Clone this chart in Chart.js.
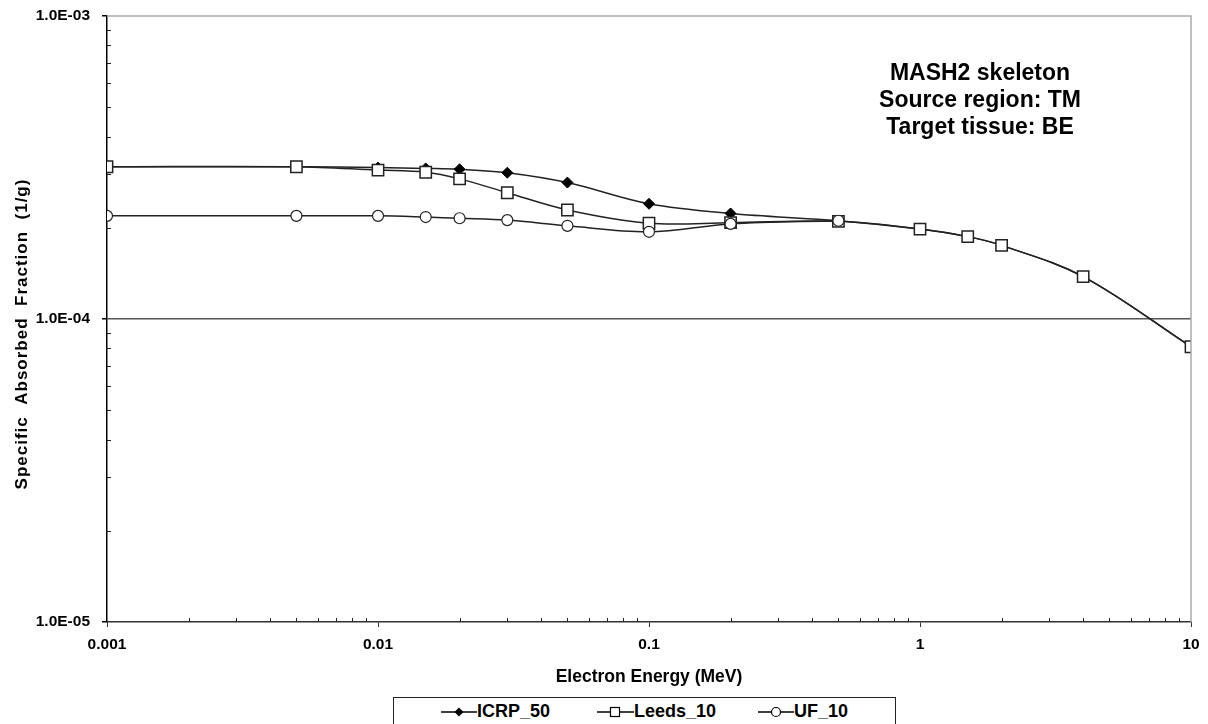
<!DOCTYPE html>
<html>
<head>
<meta charset="utf-8">
<script src="https://cdn.jsdelivr.net/npm/chart.js@4"></script>
<style>
  body { margin: 0; background: #fff; font-family: 'Liberation Sans', Arial, sans-serif; }
  #wrap { position: relative; width: 1208px; height: 724px; overflow: hidden; }
  #legend { position: absolute; left: 393px; top: 697px; width: 501px; height: 40px;
            border: 1px solid #222; background: #fff; }
  .item { position: absolute; top: 3px; display: flex; align-items: center;
          font-weight: bold; font-size: 18px; color: #000; white-space: nowrap; }
</style>
</head>
<body>
<div id="wrap">
  <canvas id="chart" width="1208" height="724"></canvas>
  <div id="legend">
    <div class="item" style="left:47px"><svg width="36" height="16"><line x1="0" y1="8" x2="36" y2="8" stroke="#000" stroke-width="1.5"/><polygon points="18,3.5 22.5,8 18,12.5 13.5,8" fill="#000"/></svg>ICRP_50</div>
    <div class="item" style="left:203px"><svg width="37" height="16"><line x1="0" y1="8" x2="37" y2="8" stroke="#000" stroke-width="1.5"/><rect x="13.5" y="3.5" width="9" height="9" fill="#fff" stroke="#000" stroke-width="1.2"/></svg>Leeds_10</div>
    <div class="item" style="left:364px"><svg width="36" height="16"><line x1="0" y1="8" x2="36" y2="8" stroke="#000" stroke-width="1.5"/><circle cx="18" cy="8" r="4.5" fill="#fff" stroke="#000" stroke-width="1.2"/></svg>UF_10</div>
  </div>
</div>
<script>
// electron energies (MeV)
var energy = [0.001, 0.005, 0.01, 0.015, 0.02, 0.03, 0.05, 0.1, 0.2, 0.5, 1, 1.5, 2, 4, 10];

// specific absorbed fractions (1/g)
var icrp50 = [3.18e-4, 3.18e-4, 3.16e-4, 3.14e-4, 3.12e-4, 3.04e-4, 2.82e-4, 2.40e-4, 2.23e-4, 2.11e-4, 1.98e-4, 1.87e-4, 1.75e-4, 1.38e-4, 8.1e-5];
var leeds10 = [3.18e-4, 3.18e-4, 3.10e-4, 3.05e-4, 2.90e-4, 2.61e-4, 2.29e-4, 2.07e-4, 2.08e-4, 2.10e-4, 1.98e-4, 1.87e-4, 1.75e-4, 1.38e-4, 8.1e-5];
var uf10 = [2.19e-4, 2.19e-4, 2.19e-4, 2.17e-4, 2.15e-4, 2.12e-4, 2.03e-4, 1.94e-4, 2.06e-4, 2.11e-4];

var noteLines = ['MASH2 skeleton', 'Source region: TM', 'Target tissue: BE'];

var FONT = "'Liberation Sans', Arial, sans-serif";

function pts(vals) {
    return vals.map(function (v, i) { return { x: energy[i], y: v }; });
}

function isDecade(v) {
    var l = Math.log10(v);
    return Math.abs(l - Math.round(l)) < 1e-6;
}

function sci(v) {
    var s = v.toExponential(1).split('e');
    var e = parseInt(s[1], 10);
    var sign = e < 0 ? '-' : '+';
    var a = Math.abs(e);
    return s[0] + 'E' + sign + (a < 10 ? '0' + a : a);
}

var extras = {
    id: 'extras',
    afterDraw: function (chart) {
        var ctx = chart.ctx;
        var area = chart.chartArea;
        var xs = chart.scales.x, ys = chart.scales.y;
        ctx.save();
        // top / right frame
        ctx.strokeStyle = '#aaa';
        ctx.lineWidth = 1.5;
        ctx.beginPath();
        ctx.moveTo(area.left, area.top);
        ctx.lineTo(area.right, area.top);
        ctx.lineTo(area.right, area.bottom);
        ctx.stroke();
        // minor ticks, inward
        ctx.strokeStyle = '#222';
        ctx.lineWidth = 1;
        ctx.beginPath();
        for (var d = 0.001; d < 9; d *= 10) {
            for (var k = 2; k <= 9; k++) {
                var px = Math.round(xs.getPixelForValue(k * d)) + 0.5;
                ctx.moveTo(px, area.bottom);
                ctx.lineTo(px, area.bottom - 4);
            }
        }
        for (var dy = 1e-5; dy < 9e-4; dy *= 10) {
            for (var j = 2; j <= 9; j++) {
                var py = Math.round(ys.getPixelForValue(j * dy)) + 0.5;
                ctx.moveTo(area.left, py);
                ctx.lineTo(area.left + 4, py);
            }
        }
        ctx.stroke();
        // note text
        ctx.fillStyle = '#000';
        ctx.font = 'bold 23px ' + FONT;
        ctx.textAlign = 'center';
        ctx.textBaseline = 'middle';
        noteLines.forEach(function (t, i) {
            ctx.fillText(t, 980, 74 + i * 27);
        });
        // y title with letter spacing
        ctx.translate(22, 334);
        ctx.rotate(-Math.PI / 2);
        ctx.font = 'bold 17px ' + FONT;
        ctx.letterSpacing = '1px';
        ctx.fillText('Specific  Absorbed  Fraction  (1/g)', 0, 0);
        ctx.restore();
    }
};

var chart = new Chart(document.getElementById('chart'), {
    type: 'line',
    data: {
        datasets: [{
            label: 'ICRP_50',
            data: pts(icrp50),
            order: 2,
            borderColor: '#222',
            borderWidth: 1.5,
            pointStyle: 'rectRot',
            pointRadius: 5.5,
            pointBackgroundColor: '#000',
            pointBorderColor: '#000',
            pointBorderWidth: 1,
            tension: 0.35
        }, {
            label: 'Leeds_10',
            data: pts(leeds10),
            order: 1,
            borderColor: '#222',
            borderWidth: 1.5,
            pointStyle: 'rect',
            pointRadius: 8,
            pointBackgroundColor: '#fff',
            pointBorderColor: '#222',
            pointBorderWidth: 1.5,
            tension: 0.35
        }, {
            label: 'UF_10',
            data: pts(uf10),
            order: 0,
            borderColor: '#222',
            borderWidth: 1.5,
            pointStyle: 'circle',
            pointRadius: 5.5,
            pointBackgroundColor: '#fff',
            pointBorderColor: '#222',
            pointBorderWidth: 1.2,
            tension: 0.35
        }]
    },
    options: {
        responsive: false,
        animation: false,
        events: [],
        layout: { autoPadding: false, padding: { left: 0, right: 17, top: 16, bottom: 32 } },
        plugins: { legend: { display: false }, tooltip: { enabled: false } },
        scales: {
            x: {
                type: 'logarithmic',
                min: 0.001,
                max: 10,
                afterFit: function (s) { s.height = 70; s.paddingLeft = 0; s.paddingRight = 0; },
                grid: {
                    drawOnChartArea: false,
                    tickLength: 5,
                    tickColor: function (c) { return c.tick && isDecade(c.tick.value) ? '#333' : 'rgba(0,0,0,0)'; }
                },
                border: { color: '#333', width: 1.5 },
                ticks: {
                    autoSkip: false,
                    maxRotation: 0,
                    padding: 8,
                    color: '#000',
                    font: { family: FONT, size: 15.5, weight: 'bold' },
                    callback: function (v) { return isDecade(v) ? String(+v.toPrecision(1)) : ''; }
                },
                title: {
                    display: true,
                    text: 'Electron Energy (MeV)',
                    color: '#000',
                    font: { family: FONT, size: 17.5, weight: 'bold' },
                    padding: { top: 0, bottom: 4 }
                }
            },
            y: {
                type: 'logarithmic',
                min: 1e-5,
                max: 1e-3,
                afterFit: function (s) { s.width = 107; s.paddingTop = 0; s.paddingBottom = 0; },
                grid: {
                    lineWidth: 1.5,
                    tickLength: 5,
                    color: function (c) {
                        return c.tick && isDecade(c.tick.value) && c.tick.value > 2e-5 && c.tick.value < 5e-4 ? '#555' : 'rgba(0,0,0,0)';
                    },
                    tickColor: function (c) { return c.tick && isDecade(c.tick.value) ? '#000' : 'rgba(0,0,0,0)'; }
                },
                border: { color: '#000', width: 1.5 },
                ticks: {
                    autoSkip: false,
                    padding: 12,
                    color: '#000',
                    font: { family: FONT, size: 15.5, weight: 'bold' },
                    callback: function (v) { return isDecade(v) ? sci(v) : ''; }
                }
            }
        }
    },
    plugins: [extras]
});
</script>
</body>
</html>
